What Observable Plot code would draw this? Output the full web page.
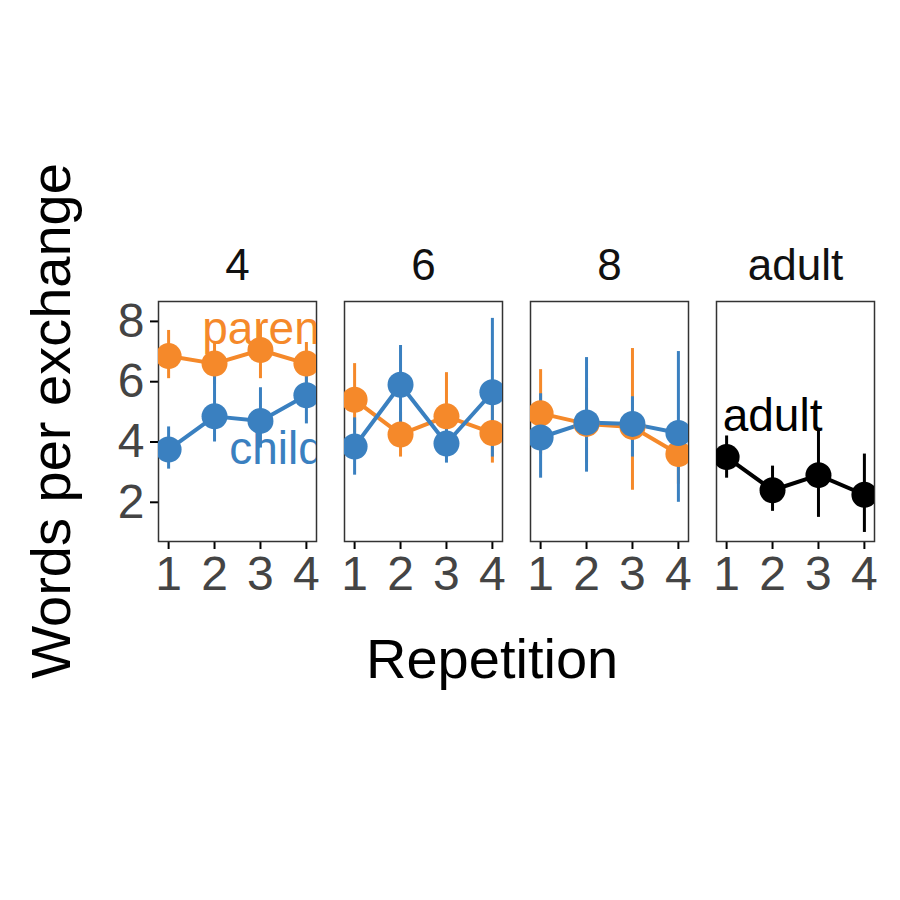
<!DOCTYPE html>
<html><head><meta charset="utf-8">
<script src="https://cdn.jsdelivr.net/npm/d3@7"></script>
<script src="https://cdn.jsdelivr.net/npm/@observablehq/plot@0.6"></script>
<style>body{margin:0;background:#fff;font-family:"Liberation Sans",Arial,sans-serif}
#wrap{position:relative;width:900px;height:900px}
.t{position:absolute;font-size:56px;color:#000;white-space:nowrap}</style>
</head><body><div id="wrap"></div>
<script>
const panels = ["4", "6", "8", "adult"];
const reps = [1, 2, 3, 4];
// mean, low, high per panel/group
const parentMean = {"4": [6.85, 6.6, 7.05, 6.6], "6": [5.4, 4.25, 4.85, 4.3], "8": [4.95, 4.6, 4.5, 3.6]};
const parentLo   = {"4": [6.1, 5.9, 6.1, 5.8], "6": [4.3, 3.5, 3.9, 3.3], "8": [3.6, 3.3, 2.4, 2.6]};
const parentHi   = {"4": [7.7, 7.3, 7.9, 7.3], "6": [6.6, 5.0, 6.3, 5.5], "8": [6.4, 5.8, 7.1, 4.6]};
const childMean  = {"4": [3.75, 4.85, 4.7, 5.55], "6": [3.85, 5.9, 3.95, 5.65], "8": [4.15, 4.65, 4.6, 4.3]};
const childLo    = {"4": [3.1, 4.0, 3.8, 4.6], "6": [2.9, 4.6, 3.3, 3.5], "8": [2.8, 3.0, 3.5, 2.0]};
const childHi    = {"4": [4.5, 6.2, 5.8, 6.6], "6": [4.8, 7.2, 4.7, 8.1], "8": [5.6, 6.8, 5.5, 7.0]};
const adultMean = [3.5, 2.4, 2.9, 2.25];
const adultLo   = [2.8, 1.7, 1.5, 1.0];
const adultHi   = [4.2, 3.2, 4.4, 3.6];
const colors = {parent: "#f5892a", child: "#3a80c0", adult: "#000000"};

const rows = [];
for (const p of ["4", "6", "8"]) {
  reps.forEach((r, i) => {
    rows.push({panel: p, group: "parent", rep: r, y: parentMean[p][i], lo: parentLo[p][i], hi: parentHi[p][i]});
    rows.push({panel: p, group: "child", rep: r, y: childMean[p][i], lo: childLo[p][i], hi: childHi[p][i]});
  });
}
reps.forEach((r, i) => rows.push({panel: "adult", group: "adult", rep: r, y: adultMean[i], lo: adultLo[i], hi: adultHi[i]}));

const labels = [
  {panel: "4", group: "parent", rep: 3.15, y: 7.75, text: "parent"},
  {panel: "4", group: "child", rep: 3.35, y: 3.75, text: "child"},
  {panel: "adult", group: "adult", rep: 2.0, y: 4.85, text: "adult"}
];

const chart = Plot.plot({
  width: 900, height: 900,
  marginLeft: 157, marginRight: 25, marginTop: 301, marginBottom: 359,
  style: {fontFamily: "Liberation Sans, Arial, sans-serif", background: "white"},
  fx: {domain: panels, padding: 0.15},
  x: {domain: [0.78, 4.22]},
  y: {domain: [0.7, 8.66]},
  color: {domain: Object.keys(colors), range: Object.values(colors)},
  marks: [
    Plot.axisFx({anchor: "top", fontSize: 44, tickSize: 0, tickPadding: 22, label: null, fill: "#111"}),
    Plot.axisX({ticks: reps, tickFormat: "d", fontSize: 48, tickSize: 8, tickPadding: 6, label: null, fill: "#444", strokeWidth: 2}),
    Plot.axisY({ticks: [2, 4, 6, 8], tickFormat: "d", fontSize: 48, tickSize: 8, tickPadding: 6, label: null, fill: "#444", strokeWidth: 2}),
    Plot.frame({stroke: "#333", strokeWidth: 1.5}),
    Plot.ruleX(rows, {fx: "panel", x: "rep", y1: "lo", y2: "hi", stroke: d => d.group, strokeWidth: 3, clip: true}),
    Plot.line(rows, {fx: "panel", x: "rep", y: "y", z: "group", stroke: d => d.group, strokeWidth: 4, clip: true}),
    Plot.dot(rows, {fx: "panel", x: "rep", y: "y", fill: d => d.group, r: 13, clip: true}),
    Plot.text(labels.filter(d => d.group !== "adult"), {fx: "panel", x: "rep", y: "y", text: "text", fill: d => d.group, fontSize: 46, clip: true}),
    Plot.text(labels.filter(d => d.group === "adult"), {fx: "panel", x: "rep", y: "y", text: "text", fill: d => d.group, fontSize: 46})
  ]
});
const wrap = document.getElementById("wrap");
wrap.appendChild(chart);
const xt = document.createElement("div");
xt.className = "t"; xt.textContent = "Repetition";
xt.style.left = "366px"; xt.style.top = "626px";
wrap.appendChild(xt);
const yt = document.createElement("div");
yt.className = "t"; yt.textContent = "Words per exchange";
yt.style.left = "50px"; yt.style.top = "421px";
yt.style.transform = "translate(-50%,-50%) rotate(-90deg)";
wrap.appendChild(yt);
</script></body></html>
